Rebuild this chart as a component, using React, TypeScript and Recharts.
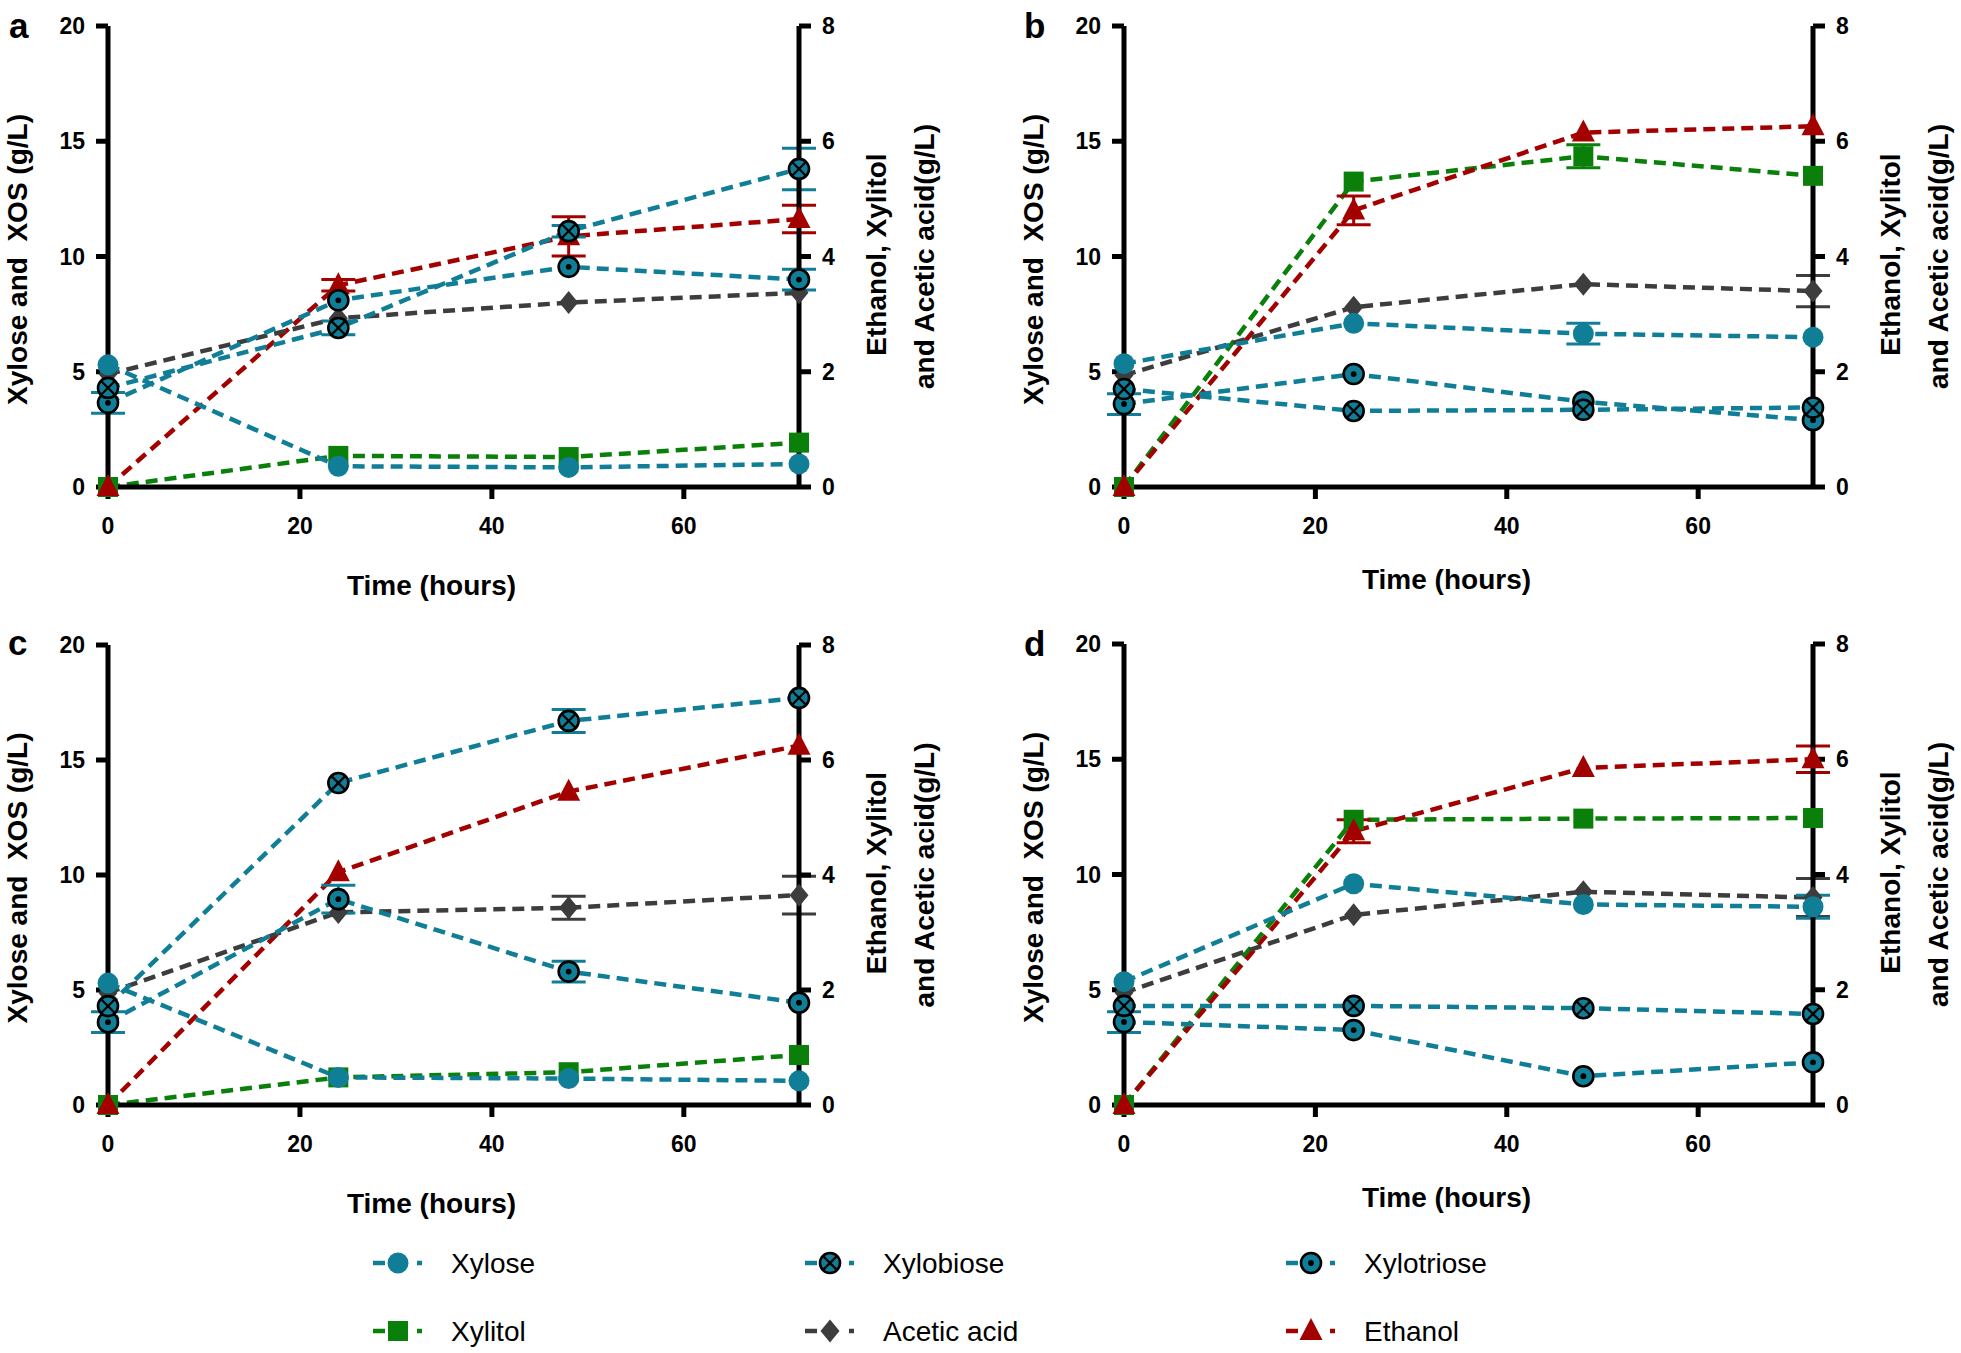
import React from 'react';
import { LineChart, Line, XAxis, YAxis, ErrorBar } from 'recharts';

const FONT = '"Liberation Sans", Arial, Helvetica, sans-serif';
const TEAL = '#107e97';
const GREEN = '#0a800a';
const RED = '#a30000';
const GREY = '#3d3d3d';

// ---------- shared axes ----------
const timeHours = [0, 24, 48, 72];
const xTicks = [0, 20, 40, 60];
const leftTicks = [0, 5, 10, 15, 20];
const rightTicks = [0, 2, 4, 6, 8];

// ---------- panel a ----------
const xyloseA = [5.3, 0.9, 0.85, 1.0];
const xyloseErrA = [0, 0, 0, 0];
const xylobioseA = [4.3, 6.9, 11.1, 13.8];
const xylobioseErrA = [0, 0.3, 0.25, 0.9];
const xylotrioseA = [3.65, 8.1, 9.55, 9.0];
const xylotrioseErrA = [0.45, 0, 0, 0.45];
const xylitolA = [0.0, 0.54, 0.52, 0.77];
const xylitolErrA = [0, 0, 0, 0];
const aceticA = [1.96, 2.93, 3.2, 3.37];
const aceticErrA = [0, 0, 0, 0];
const ethanolA = [0.0, 3.5, 4.35, 4.65];
const ethanolErrA = [0, 0.1, 0.34, 0.24];

// ---------- panel b ----------
const xyloseB = [5.35, 7.1, 6.65, 6.5];
const xyloseErrB = [0, 0, 0.45, 0];
const xylobioseB = [4.25, 3.3, 3.35, 3.45];
const xylobioseErrB = [0, 0, 0, 0];
const xylotrioseB = [3.6, 4.9, 3.7, 2.9];
const xylotrioseErrB = [0.45, 0, 0, 0];
const xylitolB = [0.0, 5.3, 5.74, 5.4];
const xylitolErrB = [0, 0, 0.2, 0];
const aceticB = [1.94, 3.12, 3.52, 3.4];
const aceticErrB = [0, 0, 0, 0.27];
const ethanolB = [0.0, 4.8, 6.15, 6.26];
const ethanolErrB = [0, 0.25, 0, 0];

// ---------- panel c ----------
const xyloseC = [5.3, 1.2, 1.15, 1.05];
const xyloseErrC = [0, 0, 0, 0];
const xylobioseC = [4.3, 14.0, 16.7, 17.7];
const xylobioseErrC = [0, 0, 0.5, 0];
const xylotrioseC = [3.6, 8.95, 5.8, 4.45];
const xylotrioseErrC = [0.45, 0.6, 0.45, 0];
const xylitolC = [0.0, 0.48, 0.57, 0.87];
const xylitolErrC = [0, 0, 0, 0];
const aceticC = [1.95, 3.35, 3.43, 3.65];
const aceticErrC = [0, 0, 0.2, 0.33];
const ethanolC = [0.0, 4.05, 5.45, 6.25];
const ethanolErrC = [0, 0, 0, 0];

// ---------- panel d ----------
const xyloseD = [5.35, 9.6, 8.7, 8.6];
const xyloseErrD = [0, 0, 0, 0.5];
const xylobioseD = [4.3, 4.3, 4.2, 3.95];
const xylobioseErrD = [0, 0, 0, 0];
const xylotrioseD = [3.6, 3.25, 1.25, 1.85];
const xylotrioseErrD = [0.45, 0, 0, 0];
const xylitolD = [0.0, 4.95, 4.97, 4.98];
const xylitolErrD = [0, 0, 0, 0];
const aceticD = [1.95, 3.3, 3.7, 3.6];
const aceticErrD = [0, 0, 0, 0.33];
const ethanolD = [0.0, 4.75, 5.85, 6.0];
const ethanolErrD = [0, 0.2, 0, 0.23];

const legendNames = ['Xylose', 'Xylobiose', 'Xylotriose', 'Xylitol', 'Acetic acid', 'Ethanol'];

type Kind = 'xylose' | 'xylobiose' | 'xylotriose' | 'square' | 'diamond' | 'triangle';

function Marker({ kind, cx, cy }: { kind: Kind; cx: number; cy: number }) {
  if (cx == null || cy == null || isNaN(cx) || isNaN(cy)) return null;
  switch (kind) {
    case 'xylose':
      return <circle cx={cx} cy={cy} r={10.5} fill={TEAL} />;
    case 'xylobiose': {
      const d = 6.6;
      return (
        <g>
          <circle cx={cx} cy={cy} r={10} fill={TEAL} stroke="#000" strokeWidth={2.6} />
          <line x1={cx - d} y1={cy - d} x2={cx + d} y2={cy + d} stroke="#000" strokeWidth={2.3} />
          <line x1={cx - d} y1={cy + d} x2={cx + d} y2={cy - d} stroke="#000" strokeWidth={2.3} />
        </g>
      );
    }
    case 'xylotriose':
      return (
        <g>
          <circle cx={cx} cy={cy} r={10} fill={TEAL} stroke="#000" strokeWidth={2.6} />
          <circle cx={cx} cy={cy} r={2.9} fill="#000" />
        </g>
      );
    case 'square':
      return <rect x={cx - 10} y={cy - 10} width={20} height={20} fill={GREEN} />;
    case 'diamond':
      return <polygon points={`${cx},${cy - 11.5} ${cx + 9.5},${cy} ${cx},${cy + 11.5} ${cx - 9.5},${cy}`} fill={GREY} />;
    case 'triangle':
      return <polygon points={`${cx},${cy - 13} ${cx + 11.5},${cy + 9} ${cx - 11.5},${cy + 9}`} fill={RED} />;
  }
  return null;
}

const seriesDefs: { key: string; axis: string; color: string; kind: Kind }[] = [
  { key: 'xylitol', axis: 'right', color: GREEN, kind: 'square' },
  { key: 'ethanol', axis: 'right', color: RED, kind: 'triangle' },
  { key: 'acetic', axis: 'right', color: GREY, kind: 'diamond' },
  { key: 'xylose', axis: 'left', color: TEAL, kind: 'xylose' },
  { key: 'xylotriose', axis: 'left', color: TEAL, kind: 'xylotriose' },
  { key: 'xylobiose', axis: 'left', color: TEAL, kind: 'xylobiose' },
];

function buildRows(s: Record<string, number[]>) {
  return timeHours.map((t, i) => {
    const row: Record<string, number> = { time: t };
    Object.keys(s).forEach((k) => {
      row[k] = s[k][i];
    });
    return row;
  });
}

const panels = [
  {
    letter: 'a', left: 0, top: 0, width: 990, height: 615,
    plotL: 108, plotR: 799, plotT: 26, plotB: 487, xTitleOff: 98, letterX: 9, letterY: 38,
    rows: buildRows({
      xylose: xyloseA, xyloseErr: xyloseErrA, xylobiose: xylobioseA, xylobioseErr: xylobioseErrA,
      xylotriose: xylotrioseA, xylotrioseErr: xylotrioseErrA, xylitol: xylitolA, xylitolErr: xylitolErrA,
      acetic: aceticA, aceticErr: aceticErrA, ethanol: ethanolA, ethanolErr: ethanolErrA,
    }),
  },
  {
    letter: 'b', left: 1000, top: 0, width: 961, height: 615,
    plotL: 124, plotR: 813, plotT: 26, plotB: 487, xTitleOff: 92, letterX: 24, letterY: 38,
    rows: buildRows({
      xylose: xyloseB, xyloseErr: xyloseErrB, xylobiose: xylobioseB, xylobioseErr: xylobioseErrB,
      xylotriose: xylotrioseB, xylotrioseErr: xylotrioseErrB, xylitol: xylitolB, xylitolErr: xylitolErrB,
      acetic: aceticB, aceticErr: aceticErrB, ethanol: ethanolB, ethanolErr: ethanolErrB,
    }),
  },
  {
    letter: 'c', left: 0, top: 620, width: 990, height: 615,
    plotL: 108, plotR: 799, plotT: 25, plotB: 485, xTitleOff: 98, letterX: 8, letterY: 35,
    rows: buildRows({
      xylose: xyloseC, xyloseErr: xyloseErrC, xylobiose: xylobioseC, xylobioseErr: xylobioseErrC,
      xylotriose: xylotrioseC, xylotrioseErr: xylotrioseErrC, xylitol: xylitolC, xylitolErr: xylitolErrC,
      acetic: aceticC, aceticErr: aceticErrC, ethanol: ethanolC, ethanolErr: ethanolErrC,
    }),
  },
  {
    letter: 'd', left: 1000, top: 620, width: 961, height: 615,
    plotL: 124, plotR: 813, plotT: 24, plotB: 485, xTitleOff: 92, letterX: 24, letterY: 36,
    rows: buildRows({
      xylose: xyloseD, xyloseErr: xyloseErrD, xylobiose: xylobioseD, xylobioseErr: xylobioseErrD,
      xylotriose: xylotrioseD, xylotrioseErr: xylotrioseErrD, xylitol: xylitolD, xylitolErr: xylitolErrD,
      acetic: aceticD, aceticErr: aceticErrD, ethanol: ethanolD, ethanolErr: ethanolErrD,
    }),
  },
];

const tickStyle = { fill: '#000', fontSize: 23, fontWeight: 'bold' as const, fontFamily: FONT };
const axisLineStyle = { stroke: '#000', strokeWidth: 5 };
const tickLineStyle = { stroke: '#000', strokeWidth: 5 };

function Panel({ p }: { p: (typeof panels)[number] }) {
  const yMid = (p.plotT + p.plotB) / 2;
  const xMid = (p.plotL + p.plotR) / 2;
  const lx = p.plotL - 91;
  const ly = yMid + 3;
  const r1x = p.plotR + 77;
  const r2x = p.plotR + 125;
  const xtX = xMid - 22;
  const xtY = p.plotB + p.xTitleOff;
  const titleProps = {
    textAnchor: 'middle' as const,
    dominantBaseline: 'central' as const,
    fontSize: 28,
    fontWeight: 'bold' as const,
    fontFamily: FONT,
    fill: '#000',
  };
  return (
    <div style={{ position: 'absolute', left: p.left, top: p.top }}>
      <LineChart
        width={p.width}
        height={p.height}
        data={p.rows}
        margin={{ left: p.plotL - 80, right: p.width - p.plotR - 80, top: p.plotT, bottom: p.height - p.plotB - 60 }}
      >
        <XAxis
          dataKey="time"
          type="number"
          domain={[0, 72]}
          ticks={xTicks}
          interval={0}
          height={60}
          tickSize={12}
          tickMargin={19}
          axisLine={axisLineStyle}
          tickLine={tickLineStyle}
          tick={tickStyle}
          label={{
            value: 'Time (hours)',
            content: () => (
              <text x={xtX} y={xtY} {...titleProps}>Time (hours)</text>
            ),
          }}
        />
        <YAxis
          yAxisId="left"
          orientation="left"
          type="number"
          domain={[0, 20]}
          ticks={leftTicks}
          interval={0}
          width={80}
          tickSize={12}
          tickMargin={11}
          axisLine={axisLineStyle}
          tickLine={tickLineStyle}
          tick={tickStyle}
          label={{
            value: 'Xylose and  XOS (g/L)',
            content: () => (
              <g>
                <text
                  x={lx}
                  y={ly}
                  transform={`rotate(-90 ${lx} ${ly})`}
                  style={{ whiteSpace: 'pre' }}
                  {...titleProps}
                >
                  Xylose and  XOS (g/L)
                </text>
                <text
                  x={p.letterX}
                  y={p.letterY}
                  fontSize={35}
                  fontWeight="bold"
                  fontFamily={FONT}
                  fill="#000"
                >
                  {p.letter}
                </text>
              </g>
            ),
          }}
        />
        <YAxis
          yAxisId="right"
          orientation="right"
          type="number"
          domain={[0, 8]}
          ticks={rightTicks}
          interval={0}
          width={80}
          tickSize={12}
          tickMargin={11}
          axisLine={axisLineStyle}
          tickLine={tickLineStyle}
          tick={tickStyle}
          label={{
            value: 'Ethanol, Xylitol and Acetic acid(g/L)',
            content: () => (
              <g>
                <text x={r1x} y={yMid - 2} transform={`rotate(-90 ${r1x} ${yMid - 2})`} {...titleProps}>
                  Ethanol, Xylitol
                </text>
                <text x={r2x} y={yMid} transform={`rotate(-90 ${r2x} ${yMid})`} {...titleProps}>
                  and Acetic acid(g/L)
                </text>
              </g>
            ),
          }}
        />
        {seriesDefs.map((s) => (
          <Line
            key={s.key}
            yAxisId={s.axis}
            dataKey={s.key}
            type="linear"
            stroke={s.color}
            strokeWidth={4.5}
            strokeDasharray="12 7"
            isAnimationActive={false}
            activeDot={false}
            dot={(dp: any) => (
              <Marker key={`${s.key}-${dp.index}`} kind={s.kind} cx={dp.cx} cy={dp.cy} />
            )}
          >
            <ErrorBar
              dataKey={`${s.key}Err`}
              width={17}
              strokeWidth={3}
              stroke={s.color}
              direction="y"
              isAnimationActive={false}
            />
          </Line>
        ))}
      </LineChart>
    </div>
  );
}

const legendItems: { name: string; kind: Kind; color: string; mx: number; my: number }[] = [
  { name: legendNames[0], kind: 'xylose', color: TEAL, mx: 398, my: 28 },
  { name: legendNames[1], kind: 'xylobiose', color: TEAL, mx: 830, my: 28 },
  { name: legendNames[2], kind: 'xylotriose', color: TEAL, mx: 1311, my: 28 },
  { name: legendNames[3], kind: 'square', color: GREEN, mx: 398, my: 96 },
  { name: legendNames[4], kind: 'diamond', color: GREY, mx: 830, my: 96 },
  { name: legendNames[5], kind: 'triangle', color: RED, mx: 1311, my: 96 },
];

function Legend() {
  return (
    <svg
      width={1961}
      height={118}
      style={{ position: 'absolute', left: 0, top: 1235 }}
    >
      {legendItems.map((it) => (
        <g key={it.name}>
          <line x1={it.mx - 25} y1={it.my} x2={it.mx - 13} y2={it.my} stroke={it.color} strokeWidth={4.5} />
          <line x1={it.mx + 19} y1={it.my} x2={it.mx + 24} y2={it.my} stroke={it.color} strokeWidth={4.5} />
          <Marker kind={it.kind} cx={it.mx} cy={it.my} />
          <text
            x={it.mx + 53}
            y={it.my}
            dominantBaseline="central"
            fontSize={28}
            fontFamily={FONT}
            fill="#000"
          >
            {it.name}
          </text>
        </g>
      ))}
    </svg>
  );
}

export default function App() {
  return (
    <div style={{ position: 'absolute', left: 0, top: 0, width: 1961, height: 1353, background: '#fff' }}>
      {panels.map((p) => (
        <Panel key={p.letter} p={p} />
      ))}
      <Legend />
    </div>
  );
}
